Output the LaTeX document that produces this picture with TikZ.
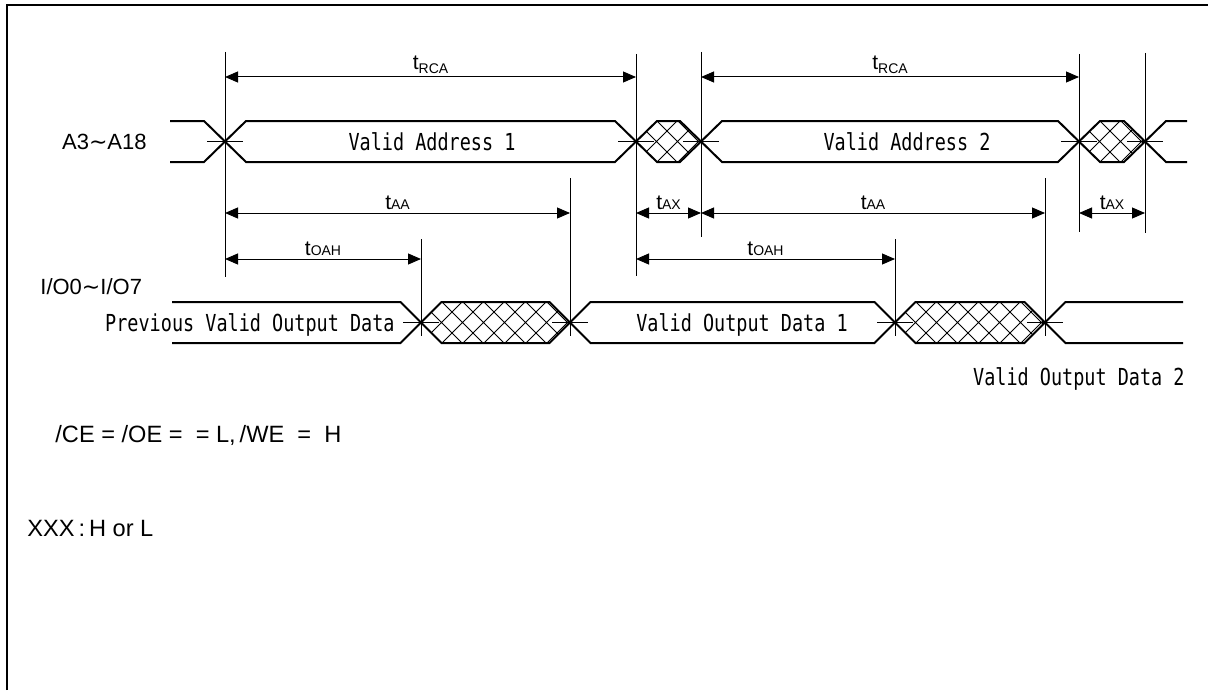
\documentclass[tikz,border=0pt]{standalone}
\usepackage{fontspec}
\setmainfont{Liberation Sans}
\newfontfamily\gothic[FakeStretch=0.79]{DejaVu Sans Mono}
\newfontfamily\dejavu{DejaVu Sans}
\usetikzlibrary{arrows.meta}

\begin{document}
\begin{tikzpicture}[x=0.5pt,y=-0.5pt,>={Triangle[length=6.5pt,width=5.5pt]},line join=miter,
  sig/.style={line width=1pt},
  guide/.style={line width=0.5pt},
  dim/.style={line width=0.5pt,<->},
  hatchline/.style={line width=0.5pt},
  mono/.style={font=\gothic\fontsize{11.7}{12}\selectfont,inner sep=0pt,text height=8.5pt,text depth=0pt},
  sans/.style={font=\fontsize{11}{13}\selectfont,inner sep=0pt,text height=7.9pt,text depth=0pt},
  note/.style={font=\fontsize{11.8}{14}\selectfont,inner sep=0pt,text height=8.5pt,text depth=0pt,anchor=west},
  tlab/.style={font=\fontsize{10.5}{11}\selectfont,inner sep=0pt,above=1.5pt}]
\useasboundingbox (0,0) rectangle (1208,690);
% frame
\draw[line width=1.2pt] (7,690) -- (7,5) -- (1208,5);

% crossing points of the two buses
\coordinate (a0) at (225,141.5);
\coordinate (a1) at (636,141.5);
\coordinate (a2) at (701,141.5);
\coordinate (a3) at (1079,141.5);
\coordinate (a4) at (1145,141.5);
\coordinate (d0) at (421,322.5);
\coordinate (d1) at (570,322.5);
\coordinate (d2) at (895,322.5);
\coordinate (d3) at (1045,322.5);
% heights of the dimension arrows
\coordinate (yrca) at (0,77);
\coordinate (yaa) at (0,213);
\coordinate (yoah) at (0,259);

% guide lines
\draw[guide] (225,52) -- (225,277);
\draw[guide] (636,54) -- (636,276);
\draw[guide] (701,52) -- (701,237);
\draw[guide] (1079,54) -- (1079,232);
\draw[guide] (1145,53) -- (1145,233);
\draw[guide] (570,178) -- (570,336);
\draw[guide] (1045,178) -- (1045,336);
\draw[guide] (421,239) -- (421,336);
\draw[guide] (895,239) -- (895,336);

% address bus
\draw[sig] (170,121) -- (204,121) -- (246,162) -- (615,162) -- (657,121) -- (680,121) -- (722,162)
  -- (1058,162) -- (1100,121) -- (1124,121) -- (1166,162) -- (1187,162);
\draw[sig] (170,162) -- (204,162) -- (246,121) -- (615,121) -- (657,162) -- (680,162) -- (722,121)
  -- (1058,121) -- (1100,162) -- (1124,162) -- (1166,121) -- (1187,121);

% data bus
\draw[sig] (172,302) -- (400.5,302) -- (441.5,343) -- (549.5,343) -- (590.5,302) -- (874.5,302)
  -- (915.5,343) -- (1024.5,343) -- (1065.5,302) -- (1183,302);
\draw[sig] (172,343) -- (400.5,343) -- (441.5,302) -- (549.5,302) -- (590.5,343) -- (874.5,343)
  -- (915.5,302) -- (1024.5,302) -- (1065.5,343) -- (1183,343);

% don't care hatching
\foreach \a/\b/\t in {636/701/121,1079/1145/121,421/570/302,895/1045/302}{
  \begin{scope}
    \clip (\a,\t+20.5) -- (\a+20.5,\t) -- (\b-20.5,\t) -- (\b,\t+20.5) -- (\b-20.5,\t+41) -- (\a+20.5,\t+41) -- cycle;
    \foreach \k in {-3,...,9}
      \draw[hatchline] (\a+\k*21,\t) -- ++(41,41) (\a+\k*21+41,\t) -- ++(-41,41);
  \end{scope}
}

% ticks at the crossings
\foreach \p in {a0,a1,a2,a3,a4,d0,d1,d2,d3}
  \draw[guide] ([xshift=-9pt]\p) -- ([xshift=9pt]\p);

% timing arrows
\draw[dim] (a0 |- yrca) -- node[tlab] (rca1) {t\raisebox{-2pt}{\fontsize{7}{8}\selectfont RCA}} (a1 |- yrca);
\draw[dim] (a2 |- yrca) -- node[tlab] (rca2) {t\raisebox{-2pt}{\fontsize{7}{8}\selectfont RCA}} (a3 |- yrca);
\draw[dim] (a0 |- yaa) -- node[tlab] (aa1) {t{\fontsize{7}{8}\selectfont AA}} (d1 |- yaa);
\draw[dim] (a1 |- yaa) -- node[tlab] (ax1) {t{\fontsize{7}{8}\selectfont AX}} (a2 |- yaa);
\draw[dim] (a2 |- yaa) -- node[tlab] (aa2) {t{\fontsize{7}{8}\selectfont AA}} (d3 |- yaa);
\draw[dim] (a3 |- yaa) -- node[tlab] (ax2) {t{\fontsize{7}{8}\selectfont AX}} (a4 |- yaa);
\draw[dim] (a0 |- yoah) -- node[tlab] (oah1) {t{\fontsize{7}{8}\selectfont OAH}} (d0 |- yoah);
\draw[dim] (a1 |- yoah) -- node[tlab] (oah2) {t{\fontsize{7}{8}\selectfont OAH}} (d2 |- yoah);

% texts
\node[sans,anchor=east] (addr) at (147,141.5) {A3{\dejavu ∼}A18};
\node[sans,anchor=west] (io) at (40,287) {I/O0{\dejavu ∼}I/O7};
\node[mono] (va1) at (432,141.5) {Valid Address 1};
\node[mono] (va2) at (907,141.5) {Valid Address 2};
\node[mono,anchor=east] (prev) at (395,322.5) {Previous Valid Output Data};
\node[mono] (vod1) at (742,322.5) {Valid Output Data 1};
\node[mono,anchor=east] (vod2) at (1185,376.5) {Valid Output Data 2};
\node[note] (cond) at (55,434) {/CE = /OE =\ \ = L,\,/WE\ \ =\ \ H};
\node[note] (xxx) at (27,528) {XXX\,:\,H or L};
\end{tikzpicture}
\end{document}
